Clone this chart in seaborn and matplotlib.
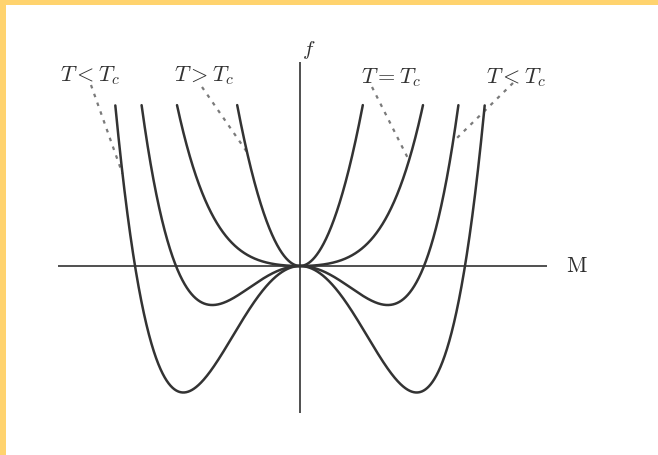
import numpy as np
import pandas as pd
import matplotlib
matplotlib.use("Agg")
import matplotlib.pyplot as plt
from matplotlib.patches import Rectangle
import seaborn as sns

# Landau free energy f(M) = a2*M^2 + a4*M^4 for four temperatures
curve_names = ["above", "critical", "below_shallow", "below_deep"]
coef_m2 = [4.0, 0.25, -1.015, -1.859]
coef_m4 = [0.2, 0.538, 0.66, 0.683]
f_top = 1.61

# label text, label anchor (M, f), leader start (M, f), leader end M on its curve
label_text = [r"$T < T_c$", r"$T > T_c$", r"$T = T_c$", r"$T < T_c$"]
label_curve = [3, 0, 1, 2]
label_pos = [(-2.10, 1.85), (-0.96, 1.85), (0.91, 1.83), (2.16, 1.83)]
leader_start = [(-2.09, 1.81), (-0.98, 1.79), (0.72, 1.79), (2.13, 1.83)]
leader_end_m = [-1.775, -0.53, 1.09, 1.53]


def free_energy(i, m):
    return coef_m2[i] * m ** 2 + coef_m4[i] * m ** 4


m_grid = np.linspace(-2.2, 2.2, 4001)
frames = []
for i, name in enumerate(curve_names):
    f = free_energy(i, m_grid)
    keep = f <= f_top
    frames.append(pd.DataFrame({"M": m_grid[keep], "f": f[keep], "curve": name}))
df = pd.concat(frames, ignore_index=True)

sns.set_theme(style="white")
plt.rcParams["mathtext.fontset"] = "cm"

fig = plt.figure(figsize=(6.58, 4.55), dpi=100)
fig.patch.set_facecolor("white")
ax = fig.add_axes([0, 0, 1, 1])

# coordinate axes
ax.plot([-2.42, 2.47], [0, 0], color="#505050", lw=1.4, solid_capstyle="butt", zorder=2)
ax.plot([0, 0], [-1.47, 2.04], color="#505050", lw=1.4, solid_capstyle="butt", zorder=2)
ax.text(2.77, 0.0, r"$\mathrm{M}$", fontsize=16, ha="center", va="center",
        color="#2e2e2e")
ax.text(0.09, 2.16, r"$f$", fontsize=15, ha="center", va="center", color="#2e2e2e")

sns.lineplot(data=df, x="M", y="f", units="curve", estimator=None, sort=False,
             color="#333333", lw=1.8, ax=ax, zorder=3)
ax.set_xlim(-3.0, 3.58)
ax.set_ylim(-1.89, 2.66)
ax.axis("off")

for txt, ci, pos, start, mend in zip(label_text, label_curve, label_pos,
                                     leader_start, leader_end_m):
    ax.text(pos[0], pos[1], txt, fontsize=16, ha="center", va="baseline",
            color="#333333")
    ax.plot([start[0], mend], [start[1], free_energy(ci, mend)],
            color="#7a7a7a", lw=1.6, linestyle=(0, (1.6, 2.6)), zorder=2)

# soft yellow frame on the top and left edges
fig.patches.append(Rectangle((0, 1 - 5 / 455), 1, 5 / 455, transform=fig.transFigure,
                             facecolor="#FFD36E", edgecolor="none", zorder=10))
fig.patches.append(Rectangle((0, 0), 6 / 658, 1, transform=fig.transFigure,
                             facecolor="#FFD36E", edgecolor="none", zorder=10))

fig.savefig("out.png", dpi=100)
